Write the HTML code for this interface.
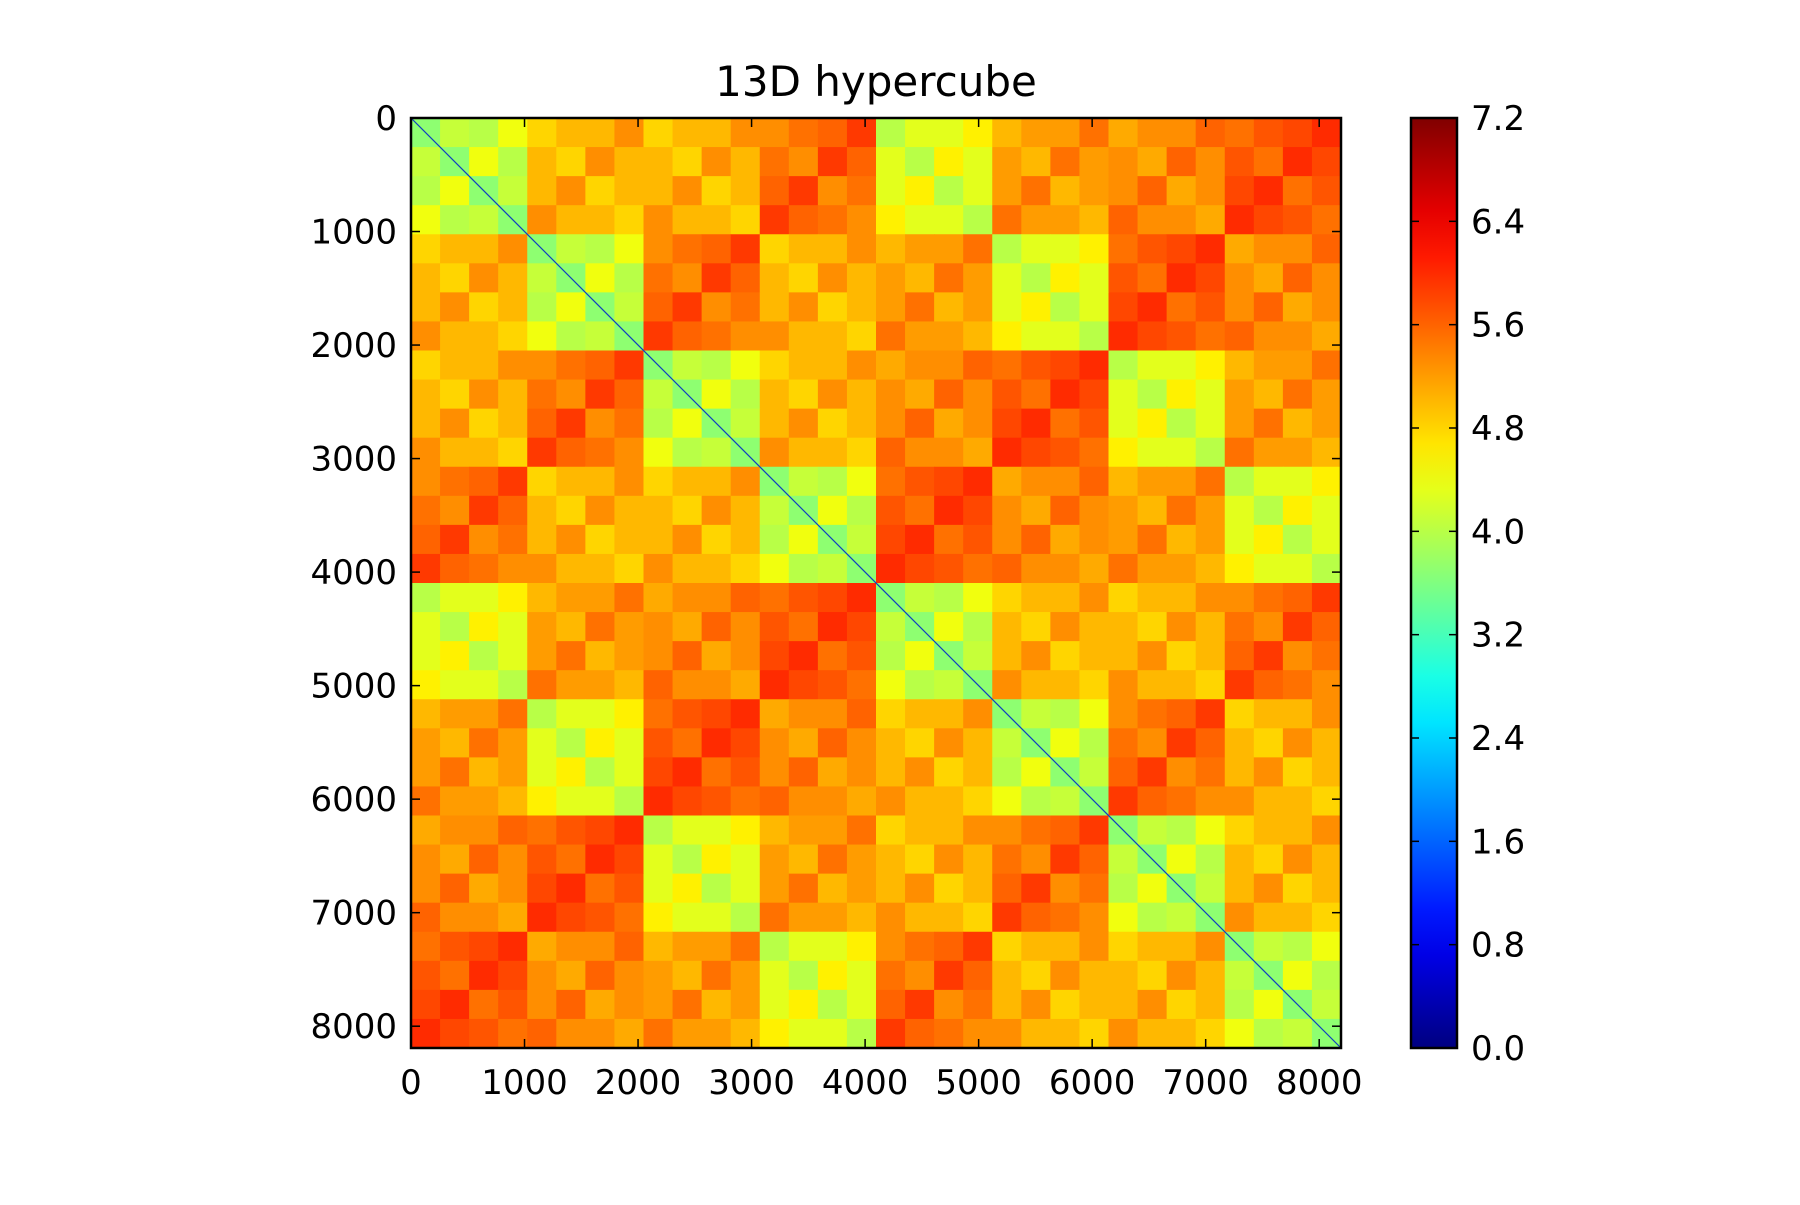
<!DOCTYPE html>
<html><head><meta charset="utf-8"><style>
html,body{margin:0;padding:0;background:#fff;}
svg text{font-family:"DejaVu Sans","Liberation Sans",sans-serif;fill:#000;}
</style></head><body>
<svg id="chart" width="1800" height="1200" viewBox="0 0 1800 1200" xmlns="http://www.w3.org/2000/svg">
<rect width="1800" height="1200" fill="#fff"/>
<text x="876" y="96" font-size="42" text-anchor="middle">13D hypercube</text>
<g id="cells"></g>
<g id="axes"></g>
</svg>
<script>
// Data: mean distance by XOR of 256-wide block indices
const blockSize = 256;
const nTotal = 8192;
const xorProfile = [3.7,4.1,4.0,4.4, 4.8,5.0,5.0,5.3, 4.8,5.0,5.0,5.3, 5.3,5.5,5.6,5.9,
                    4.0,4.3,4.3,4.6, 5.0,5.2,5.2,5.5, 5.1,5.3,5.3,5.6, 5.5,5.7,5.8,6.0];
const xTicks = [0,1000,2000,3000,4000,5000,6000,7000,8000];
const yTicks = [0,1000,2000,3000,4000,5000,6000,7000,8000];
const cbTicks = [0.0,0.8,1.6,2.4,3.2,4.0,4.8,5.6,6.4,7.2];
const vMin = 0, vMax = 7.2;

const NS = "http://www.w3.org/2000/svg";
const L = 411, T = 118, W = 930, H = 930;
const CBX = 1411, CBW = 46;
function sx(v){ return L + v / nTotal * W; }
function sy(v){ return T + v / nTotal * H; }
function cy(v){ return T + H - (v - vMin) / (vMax - vMin) * H; }
function jet(t){
  t = Math.max(0, Math.min(1, t));
  const f = x => Math.max(0, Math.min(1, x));
  const r = f(1.5 - Math.abs(4*t - 3)), g = f(1.5 - Math.abs(4*t - 2)), b = f(1.5 - Math.abs(4*t - 1));
  return `rgb(${Math.round(r*255)},${Math.round(g*255)},${Math.round(b*255)})`;
}
function mk(tag, attrs, parent){
  const e = document.createElementNS(NS, tag);
  for (const k in attrs) e.setAttribute(k, attrs[k]);
  parent.appendChild(e); return e;
}
const cells = document.getElementById('cells');
const axes = document.getElementById('axes');
const nb = xorProfile.length;
for (let i = 0; i < nb; i++) for (let j = 0; j < nb; j++) {
  const v = xorProfile[i ^ j];
  const x0 = sx(j*blockSize), y0 = sy(i*blockSize);
  const r = mk('rect', {x:x0, y:y0, width:sx((j+1)*blockSize)-x0+0.5, height:sy((i+1)*blockSize)-y0+0.5, fill:jet((v-vMin)/(vMax-vMin))}, cells);
  
  
}
const diag = mk('line', {x1:sx(0), y1:sy(0), x2:sx(nTotal), y2:sy(nTotal), stroke:'#1040c0', 'stroke-width':1.2}, cells);



const frame = mk('rect', {x:L, y:T, width:W, height:H, fill:'none', stroke:'#000', 'stroke-width':2.5}, axes);


xTicks.forEach(v => {
  const x = sx(v);
  mk('line', {x1:x, y1:T, x2:x, y2:T+9, stroke:'#000', 'stroke-width':1.5}, axes);
  mk('line', {x1:x, y1:T+H, x2:x, y2:T+H-9, stroke:'#000', 'stroke-width':1.5}, axes);
  const t = mk('text', {x:x, y:T+H+46, 'font-size':34, 'text-anchor':'middle'}, axes);
  t.textContent = v;
  
  
});
yTicks.forEach(v => {
  const y = sy(v);
  mk('line', {x1:L, y1:y, x2:L+9, y2:y, stroke:'#000', 'stroke-width':1.5}, axes);
  mk('line', {x1:L+W, y1:y, x2:L+W-9, y2:y, stroke:'#000', 'stroke-width':1.5}, axes);
  const t = mk('text', {x:L-14, y:y+12, 'font-size':34, 'text-anchor':'end'}, axes);
  t.textContent = v;
  
  
});
const defs = mk('defs', {}, axes);
const grad = mk('linearGradient', {id:'jetg', x1:0, y1:1, x2:0, y2:0}, defs);
for (let k = 0; k <= 20; k++) mk('stop', {offset:k/20, 'stop-color':jet(k/20)}, grad);
const cb = mk('rect', {x:CBX, y:T, width:CBW, height:H, fill:'url(#jetg)', stroke:'#000', 'stroke-width':2.5}, axes);


cbTicks.forEach(v => {
  const y = cy(v);
  mk('line', {x1:CBX, y1:y, x2:CBX+8, y2:y, stroke:'#000', 'stroke-width':1.5}, axes);
  mk('line', {x1:CBX+CBW, y1:y, x2:CBX+CBW-8, y2:y, stroke:'#000', 'stroke-width':1.5}, axes);
  const t = mk('text', {x:CBX+CBW+14, y:y+12, 'font-size':34}, axes);
  t.textContent = v.toFixed(1);
  
  
});
</script>
</body></html>
